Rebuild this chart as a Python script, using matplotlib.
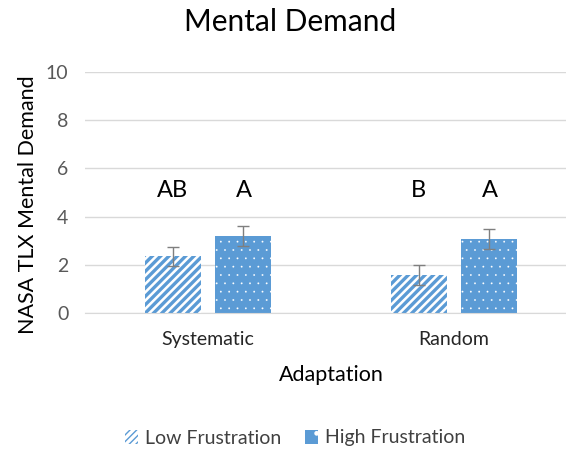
import matplotlib
matplotlib.use("Agg")
import matplotlib.pyplot as plt
import matplotlib.patches as mpatches
import numpy as np

plt.rcParams["font.family"] = ["Lato", "DejaVu Sans"]

# Data
categories = ["Systematic", "Random"]
low_means = [2.35, 1.58]
low_err = [0.40, 0.42]
high_means = [3.20, 3.07]
high_err = [0.40, 0.40]
low_letters = ["AB", "B"]
high_letters = ["A", "A"]
series = ["Low Frustration", "High Frustration"]

blue = "#5b9bd5"
grid_col = "#d9d9d9"
tick_col = "#595959"
err_col = "#7f7f7f"

fig = plt.figure(figsize=(5.66, 4.5), dpi=100)
ax = fig.add_axes([85 / 566, 1 - 313 / 450, 492 / 566, 241 / 450])

x = np.arange(len(categories))
w = 0.228
off = 0.144

with plt.rc_context({"hatch.linewidth": 2.4}):
    ax.bar(x - off, low_means, w, facecolor="white", edgecolor=blue,
           hatch="////", linewidth=0, zorder=2)
with plt.rc_context({"hatch.linewidth": 0.1}):
    ax.bar(x + off, high_means, w, facecolor=blue, edgecolor="white",
           hatch="..", linewidth=0, zorder=2)

ax.errorbar(x - off, low_means, yerr=low_err, fmt="none", ecolor=err_col,
            elinewidth=1, capsize=4.5, capthick=1, zorder=3)
ax.errorbar(x + off, high_means, yerr=high_err, fmt="none", ecolor=err_col,
            elinewidth=1, capsize=4.5, capthick=1, zorder=3)

for i in range(len(categories)):
    ax.text(x[i] - off, 5.1, low_letters[i], ha="center", va="center",
            fontsize=17, color="black")
    ax.text(x[i] + off, 5.1, high_letters[i], ha="center", va="center",
            fontsize=17, color="black")

ax.set_xlim(-0.5, 1.5)
ax.set_ylim(0, 10)
ax.set_yticks(range(0, 11, 2))
ax.set_xticks(x)
ax.set_xticklabels(categories)
ax.tick_params(axis="both", length=0, labelsize=14, colors=tick_col)
ax.tick_params(axis="x", pad=13, labelcolor="#262626")
ax.tick_params(axis="y", pad=12)
ax.yaxis.grid(True, color=grid_col, linewidth=1)
ax.set_axisbelow(True)
for s in ["top", "right", "left"]:
    ax.spines[s].set_visible(False)
ax.spines["bottom"].set_color(grid_col)

ax.set_xlabel("Adaptation", fontsize=15.5, labelpad=12)
ax.set_ylabel("NASA TLX Mental Demand", fontsize=15.5)
ax.yaxis.label.set_verticalalignment("center")
ax.yaxis.set_label_coords(-0.116, 0.448)

fig.text(290 / 566, 1 - 22 / 450, "Mental Demand", ha="center", va="center",
         fontsize=21.5)

with plt.rc_context({"hatch.linewidth": 1.5}):
    h1 = mpatches.Patch(facecolor="white", edgecolor=blue, hatch="/////",
                        linewidth=0, label=series[0])
with plt.rc_context({"hatch.linewidth": 0.1}):
    h2 = mpatches.Patch(facecolor=blue, edgecolor="white", hatch=".",
                        linewidth=0, label=series[1])
fig.legend(handles=[h1, h2], loc="center", bbox_to_anchor=(295 / 566, 1 - 438 / 450),
           ncol=2, frameon=False, fontsize=14, handlelength=0.7,
           handleheight=0.7, handletextpad=0.35, columnspacing=1.2,
           labelcolor="#404040")

fig.savefig("out.png", dpi=100)
